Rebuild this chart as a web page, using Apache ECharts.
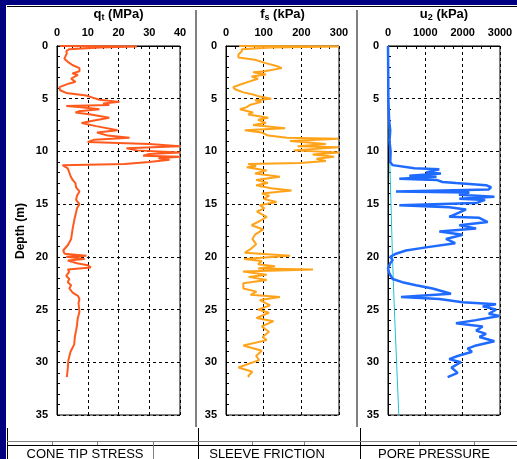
<!DOCTYPE html>
<html>
<head>
<meta charset="utf-8">
<script src="https://cdn.jsdelivr.net/npm/echarts@6/dist/echarts.min.js"></script>
<style>
  html, body { margin: 0; padding: 0; background: #fff; }
  #chart { width: 517px; height: 459px; }
</style>
</head>
<body>
<div id="chart"></div>
<script>
/* Cone tip stress qt (MPa) vs depth (m) */
const qtDepth = [0, 0.05, 0.15, 0.3, 0.5, 0.7, 1.2, 1.5, 1.8, 2.1, 2.4, 2.6, 2.75, 3.1, 3.4, 3.55, 3.9, 4.2, 4.45, 4.7,
  4.9, 5.1, 5.3, 5.45, 5.6, 5.7, 5.8, 6.0, 6.2, 6.3, 6.5, 6.8, 7.1, 7.3, 7.6, 8.0, 8.2, 8.5, 8.7, 8.9,
  9.1, 9.3, 9.5, 9.7, 9.9, 10.1, 10.25, 10.4, 10.5, 10.65, 10.8, 11.0, 11.2, 11.3, 11.6, 12.0, 12.4, 12.7, 13.0, 13.4,
  13.8, 14.2, 14.6, 15.0, 15.4, 15.8, 16.4, 17.3, 18.3, 18.9, 19.4, 19.7, 19.9, 20.0, 20.2, 20.35, 20.6, 20.8, 21.0, 21.2,
  21.4, 21.8, 22.1, 22.4, 22.7, 23.0, 23.4, 23.7, 24.0, 24.4, 25.2, 25.9, 26.5, 27.0, 27.6, 28.3, 29.0, 29.8, 30.6, 31.4];
const qtValue = [1, 26, 14, 4, 3, 3.2, 2.4, 3.5, 5, 7.3, 7.3, 5, 6.8, 4.6, 6, 4, 0.8, 1, 3, 9.5,
  11.6, 13.8, 20.3, 15, 17, 3, 8, 13.8, 7, 6, 11, 17, 11.6, 8, 12.7, 19.7, 13, 16.5, 23.6, 12,
  10, 30, 40, 22.6, 26, 40, 30, 28, 40, 33, 36.6, 30, 22, 1.8, 3.5, 4, 4.5, 5.1, 6, 6.2,
  7.3, 6.5, 6.2, 7.3, 6.5, 6.2, 5.7, 5.1, 4.6, 3.5, 2, 2.5, 9.6, 3, 9, 3.5, 6.5, 10, 11, 3.5,
  4, 3, 4, 3.5, 4.6, 4, 5.1, 6.8, 7.3, 7, 7.3, 6.7, 6.5, 6.2, 5.8, 5.6, 4.4, 3.7, 3.5, 3.2];

/* Sleeve friction fs (kPa) vs depth (m) */
const fsDepth = [0, 0.05, 0.15, 0.3, 0.5, 0.8, 1.1, 1.3, 1.6, 1.9, 2.1, 2.4, 2.5, 2.7, 2.9, 3.1, 3.4, 3.6, 3.9, 4.1,
  4.4, 4.6, 4.8, 5.0, 5.15, 5.3, 5.6, 5.8, 6.0, 6.3, 6.5, 6.8, 7.0, 7.3, 7.5, 7.8, 8.0, 8.2, 8.5, 8.7,
  8.8, 9.0, 9.3, 9.5, 9.6, 9.9, 10.1, 10.3, 10.5, 10.7, 10.9, 11.1, 11.2, 11.4, 11.5, 11.8, 12.1, 12.4, 12.7, 13.0,
  13.2, 13.5, 13.7, 14.0, 14.2, 14.5, 14.8, 15.1, 15.4, 15.7, 16.2, 16.6, 17.0, 17.4, 17.9, 18.3, 18.8, 19.3, 19.6, 19.9,
  20.2, 20.4, 20.7, 20.9, 21.1, 21.2, 21.4, 21.7, 21.9, 22.2, 22.5, 23.0, 23.3, 23.6, 23.8, 24.1, 24.6, 25.0, 25.3, 25.8,
  26.1, 26.6, 27.1, 27.6, 27.9, 28.4, 28.9, 29.4, 29.8, 30.5, 30.9, 31.3, 31.4];
const fsValue = [35, 300, 120, 42, 42, 33, 33, 77, 103, 134, 148, 103, 72, 106, 68, 85, 59, 42, 19, 24,
  46, 72, 90, 120, 77, 94, 63, 55, 37, 72, 59, 112, 85, 106, 72, 157, 50, 94, 112, 162,
  298, 170, 265, 190, 298, 180, 300, 230, 287, 240, 265, 196, 59, 80, 55, 108, 77, 143, 80, 111,
  80, 120, 174, 95, 115, 100, 134, 90, 102, 82, 108, 90, 68, 99, 77, 70, 80, 64, 50, 170,
  48, 95, 85, 130, 85, 231, 45, 108, 60, 108, 46, 46, 81, 65, 143, 90, 117, 85, 114, 81,
  126, 95, 114, 97, 108, 46, 95, 80, 88, 33, 70, 59, 62];

/* Pore pressure u2 (kPa) vs depth (m) */
const u2Depth = [0, 2, 5, 7, 8, 9, 10, 11, 11.3, 11.6, 11.7, 12.0, 12.1, 12.3, 12.4, 12.6, 12.7, 12.9, 13.0, 13.2,
  13.4, 13.6, 13.8, 13.9, 14.1, 14.3, 14.5, 14.6, 14.9, 15.1, 15.3, 15.5, 15.8, 16.2, 16.3, 16.7, 17.0, 17.3, 17.6, 17.9,
  18.3, 18.7, 19.1, 19.4, 19.7, 20.0, 20.3, 20.6, 21.1, 21.6, 22.1, 22.4, 22.7, 23.0, 23.5, 23.8, 24.0, 24.3, 24.5, 24.7,
  25.0, 25.4, 25.6, 26.0, 26.3, 26.6, 27.0, 27.3, 27.6, 28.0, 28.4, 28.7, 29.0, 29.4, 29.7, 30.0, 30.5, 31.0, 31.4];
const u2Value = [0, 5, 10, 30, 60, 40, 70, 60, 124, 705, 1374, 1017, 1420, 570, 1300, 303, 1300, 1460, 1820, 2625,
  2760, 2700, 214, 2180, 1900, 2850, 1910, 2600, 2360, 303, 1640, 2090, 1900, 1640, 2445, 2670, 1910, 2360, 1374, 2000,
  1553, 1800, 1017, 482, 214, 60, 124, 60, 0, 40, 124, 384, 750, 1195, 1687, 348, 1374, 2000, 2893, 2535,
  2893, 2700, 2980, 2360, 1820, 2535, 2360, 2625, 2450, 2850, 2360, 2130, 2250, 1865, 1640, 1950, 1700, 1865, 1597];

/* Hydrostatic pressure u0 (kPa) */
const u0Depth = [0, 5, 10, 15, 20, 25, 30, 35];
const u0Value = [0, 10, 40, 80, 120, 170, 230, 290];

const panelLabels = ['CONE TIP STRESS', 'SLEEVE FRICTION', 'PORE PRESSURE'];

const FONT = '"Liberation Sans", Arial, sans-serif';
const GRID_TOP = 46;
const GRID_H = 369;

const panels = [
  { left: 57, width: 123, max: 40, interval: 10, name: ['q', 't', ' (MPa)'] },
  { left: 226, width: 113, max: 300, interval: 100, name: ['f', 's', ' (kPa)'] },
  { left: 388, width: 112, max: 3000, interval: 1000, name: ['u', '2', ' (kPa)'] }
];

const pairs = (depth, vals) => depth.map((d, i) => [vals[i], d]);

const dashed = { show: true, lineStyle: { color: '#000', type: [3, 3], width: 1 } };

const grids = panels.map(p => ({
  left: p.left, top: GRID_TOP, width: p.width, height: GRID_H,
  show: true, borderColor: '#000', borderWidth: 1, backgroundColor: 'transparent'
}));

const xAxes = panels.map((p, i) => ({
  gridIndex: i, type: 'value', position: 'top', min: 0, max: p.max, interval: p.interval,
  name: '{v|' + p.name[0] + '}{s|' + p.name[1] + '}{v|' + p.name[2] + '}',
  nameLocation: 'middle', nameGap: 19,
  nameTextStyle: {
    rich: {
      v: { fontFamily: FONT, fontSize: 13, fontWeight: 'bold', color: '#000', verticalAlign: 'top', lineHeight: 15 },
      s: { fontFamily: FONT, fontSize: 9, fontWeight: 'bold', color: '#000', verticalAlign: 'top', lineHeight: 15, padding: [5, 0, 0, 0] }
    }
  },
  axisLine: { show: true, lineStyle: { color: '#000', width: 1 } },
  axisTick: { show: true, inside: true, length: 3, lineStyle: { color: '#000' } },
  minorTick: { show: true, splitNumber: 4, length: 3, lineStyle: { color: '#000' } },
  axisLabel: {
    fontFamily: FONT, fontSize: 11, fontWeight: 'bold', color: '#000', margin: 8,
    formatter: v => String(v)
  },
  splitLine: dashed
}));

const yAxes = panels.map((p, i) => ({
  gridIndex: i, type: 'value', inverse: true, min: 0, max: 35, interval: 5,
  axisLine: { show: true, lineStyle: { color: '#000', width: 1 } },
  axisTick: { show: true, inside: true, length: 3, lineStyle: { color: '#000' } },
  minorTick: { show: true, splitNumber: 5, length: 3, lineStyle: { color: '#000' } },
  axisLabel: { fontFamily: FONT, fontSize: 11, fontWeight: 'bold', color: '#000', margin: 9 },
  splitLine: dashed
}));

function trace(idx, data, color, width) {
  return {
    type: 'line', xAxisIndex: idx, yAxisIndex: idx, data,
    symbol: 'none', showSymbol: false, clip: true, animation: false,
    lineStyle: { color, width }, z: 3
  };
}

const series = [
  trace(0, pairs(qtDepth, qtValue), '#ff5a1e', 2),
  trace(1, pairs(fsDepth, fsValue), '#ffa31a', 2),
  trace(2, pairs(u0Depth, u0Value), '#1ec4d6', 1),
  trace(2, pairs(u2Depth, u2Value), '#1f6bff', 2.5)
];

/* Window frame, separators and the label strip at the bottom */
const frame = [
  { type: 'rect', shape: { x: 0, y: 0, width: 517, height: 5 }, style: { fill: '#000080' } },
  { type: 'rect', shape: { x: 0, y: 0, width: 6, height: 459 }, style: { fill: '#000080' } },
  { type: 'line', shape: { x1: 7, y1: 6.5, x2: 517, y2: 6.5 }, style: { stroke: '#000', lineWidth: 1 } },
  { type: 'rect', shape: { x: 195, y: 10, width: 2, height: 417 }, style: { fill: '#808080' } },
  { type: 'rect', shape: { x: 356, y: 10, width: 2, height: 417 }, style: { fill: '#808080' } }
];
[7.5, 198.5, 360.5].forEach(x => frame.push({
  type: 'line', shape: { x1: x, y1: 428, x2: x, y2: 459 }, style: { stroke: '#000', lineWidth: 1 }
}));
frame.push({ type: 'line', shape: { x1: 7, y1: 441.5, x2: 517, y2: 441.5 }, style: { stroke: '#808080', lineWidth: 1 } });
frame.push({ type: 'line', shape: { x1: 7, y1: 445.5, x2: 517, y2: 445.5 }, style: { stroke: '#000', lineWidth: 1 } });
[52.5, 97.5, 252.5, 304.5, 419.5, 474.5].forEach(x => frame.push({
  type: 'line', shape: { x1: x, y1: 441, x2: x, y2: 445 }, style: { stroke: '#808080', lineWidth: 1 }
}));
frame.push({ type: 'line', shape: { x1: 153.5, y1: 441, x2: 153.5, y2: 459 }, style: { stroke: '#808080', lineWidth: 1 } });

[85, 267, 434].forEach((x, i) => frame.push({
  type: 'text', x, y: 448,
  style: { text: panelLabels[i], fill: '#000', font: '13px ' + FONT, textAlign: 'center', textVerticalAlign: 'top' }
}));

frame.push({
  type: 'text', x: 21, y: 231, rotation: Math.PI / 2,
  style: { text: 'Depth (m)', fill: '#000', font: 'bold 12px ' + FONT, textAlign: 'center', textVerticalAlign: 'middle' }
});

const chart = echarts.init(document.getElementById('chart'), null, { renderer: 'canvas' });
chart.setOption({
  backgroundColor: '#fff',
  animation: false,
  grid: grids,
  xAxis: xAxes,
  yAxis: yAxes,
  series,
  graphic: { elements: frame }
});
</script>
</body>
</html>
